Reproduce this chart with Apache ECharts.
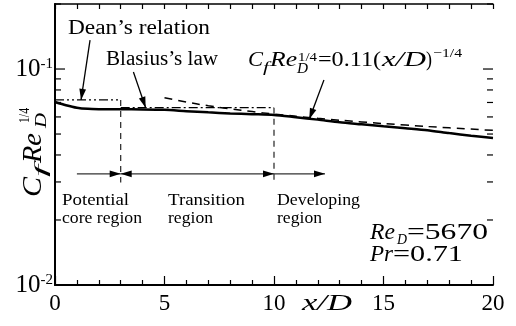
<!DOCTYPE html>
<html>
<head>
<meta charset="utf-8">
<script src="https://cdn.jsdelivr.net/npm/echarts@6/dist/echarts.min.js"></script>
<style>
html,body{margin:0;padding:0;background:#fff;}
#chart{width:516px;height:326px;}
</style>
</head>
<body>
<div id="chart"></div>
<script>
// ---------------- data ----------------
const xPositions = [0, 0.5, 1, 1.5, 2, 3, 4, 5, 6, 7, 8, 9, 10, 11, 12, 13, 14, 15, 16, 17, 18, 19, 20];
const cfReMeasured = [0.0704, 0.0680, 0.0662, 0.0654, 0.0652, 0.0651, 0.0650, 0.0647, 0.0638, 0.0630, 0.0623, 0.0618, 0.0613, 0.0598, 0.0583, 0.0567, 0.0555, 0.0543, 0.0532, 0.0521, 0.0505, 0.0491, 0.0479];
const powerLawX = [5, 6, 7, 8, 9, 10, 12, 14, 16, 18, 20];
const powerLawY = [0.0736, 0.0703, 0.0676, 0.0654, 0.0635, 0.0619, 0.0591, 0.0569, 0.0550, 0.0534, 0.0520];
const deanRange = [0, 3];
const deanLevel = 0.0719;
const blasiusRange = [3, 10];
const blasiusLevel = 0.0662;
const regionBounds = [3, 10];
const boundaryBottom = 0.0298;
const regionArrowStart = 1.0;
const regionArrowEnd = 12.33;
const regionArrowLevel = 0.0327;
const deanPointer = [1.60, 0.136, 1.19, deanLevel];
const blasiusPointer = [3.58, 0.0969, 4.14, blasiusLevel];
const powerPointer = [12.28, 0.0890, 11.61, 0.0586];
const xRange = [0, 20];
const xTickStep = 5;
const yRange = [0.01, 0.2];
const yMajorTicks = [0.01, 0.1];
const yMinorTicks = [0.02, 0.03, 0.04, 0.05, 0.06, 0.07, 0.08, 0.09, 0.2];

// ---------------- helpers ----------------
const FAMILY = '"Liberation Serif", "Times New Roman", serif';
const measureCtx = document.createElement('canvas').getContext('2d');
function fontStr(size, italic) { return (italic ? 'italic ' : '') + size + 'px ' + FAMILY; }
function piece(str, x0, x1, baseline, size, italic) {
  const f = fontStr(size, italic);
  measureCtx.font = f;
  const w = measureCtx.measureText(str).width || 1;
  return {
    type: 'text', x: x0, y: baseline - 0.34 * size, scaleX: (x1 - x0) / w, z: 100,
    style: { text: str, font: f, fill: '#000', align: 'left', verticalAlign: 'middle' }
  };
}
const P = (a) => piece.apply(null, a);

const textPieces = [
  ['Dean\u2019s relation', 68, 210, 36, 20, false],
  ['Blasius\u2019s law', 106, 218, 66.7, 20, false],
  ['C', 248, 263, 68, 22, true], ['f', 263, 269, 73, 14, true], ['Re', 270, 297, 68, 22, true],
  ['D', 297, 308, 74.5, 14, true], ['1/4', 298, 317, 62, 13, false],
  ['=0.11(', 318, 381, 68, 22, false], ['x/D', 382, 426, 68, 22, true], [')', 426, 432, 68, 22, false],
  ['\u22121/4', 433, 462, 58, 13, false],
  ['Potential', 62, 129, 206.7, 17, false], ['core region', 62, 142, 224, 17, false],
  ['Transition', 168, 245, 206.7, 17, false], ['region', 168, 213, 224, 17, false],
  ['Developing', 277, 360, 206.7, 16, false], ['region', 277, 322, 224, 16, false],
  ['Re', 370, 395, 241, 23, true], ['D', 397, 407, 245.5, 15, true], ['=5670', 407, 488, 241, 23, false],
  ['Pr', 370, 393, 263, 23, true], ['=0.71', 393, 463, 263, 23, false],
  ['x/D', 302, 352, 312, 23, true]
];
const yTitlePieces = [
  ['C', -45, -25, 11, 28, true], ['f', -25, -13, 15, 17, true], ['Re', -11, 19, 11, 28, true],
  ['D', 24, 39, 15.5, 17, true], ['1/4', 29, 44, -2, 15, false]
];

function arrowRender(params, api) {
  const a = api.coord([api.value(0), api.value(1)]);
  const b = api.coord([api.value(2), api.value(3)]);
  const hs = api.value(4), he = api.value(5), kind = api.value(6);
  const dx = b[0] - a[0], dy = b[1] - a[1];
  const L = Math.hypot(dx, dy) || 1;
  const ux = dx / L, uy = dy / L;
  const HL = 11, HW = 3.4;
  const children = [{
    type: 'line', shape: { x1: a[0], y1: a[1], x2: b[0], y2: b[1] },
    style: { stroke: kind ? '#333' : '#000', lineWidth: kind ? 1.2 : 1.3 }
  }];
  function head(tip, dirx, diry) {
    const bx = tip[0] - dirx * HL, by = tip[1] - diry * HL;
    return { type: 'polygon', shape: { points: [[tip[0], tip[1]], [bx - diry * HW, by + dirx * HW], [bx + diry * HW, by - dirx * HW]] }, style: { fill: '#000' } };
  }
  if (he) children.push(head(b, ux, uy));
  if (hs) children.push(head(a, -ux, -uy));
  return { type: 'group', children: children };
}
function tickRender(params, api) {
  const v = api.value(1), len = api.value(2);
  const pl = api.coord([xRange[0], v]);
  const pr = api.coord([xRange[1], v]);
  const st = { stroke: '#000', lineWidth: 1.2 };
  return { type: 'group', children: [
    { type: 'line', shape: { x1: pl[0], y1: pl[1], x2: pl[0] + len, y2: pl[1] }, style: st },
    { type: 'line', shape: { x1: pr[0], y1: pr[1], x2: pr[0] - len, y2: pr[1] }, style: st }
  ] };
}

const arrowData = [
  deanPointer.concat([0, 1, 0]),
  blasiusPointer.concat([0, 1, 0]),
  powerPointer.concat([0, 1, 0]),
  [regionArrowStart, regionArrowLevel, regionBounds[0], regionArrowLevel, 0, 1, 1],
  [regionBounds[0], regionArrowLevel, regionBounds[1], regionArrowLevel, 1, 1, 1],
  [regionBounds[1], regionArrowLevel, regionArrowEnd, regionArrowLevel, 0, 1, 1]
];
const tickData = yMajorTicks.map(v => [0, v, 10]).concat(yMinorTicks.map(v => [0, v, 6]));

const chart = echarts.init(document.getElementById('chart'), null, { renderer: 'canvas' });
const option = {
  animation: false,
  backgroundColor: '#fff',
  grid: { left: 55, right: 23, top: 4, bottom: 41 },
  xAxis: [
    {
      type: 'value', min: xRange[0], max: xRange[1], interval: xTickStep, position: 'bottom',
      axisLine: { lineStyle: { color: '#000', width: 2 } },
      axisTick: { inside: true, length: 9, lineStyle: { color: '#000', width: 1.2 } },
      minorTick: { show: true, splitNumber: 5, length: 5, lineStyle: { color: '#000', width: 1.2 } },
      axisLabel: { fontFamily: FAMILY, fontSize: 23, color: '#000', margin: 7 },
      splitLine: { show: false }
    },
    {
      type: 'value', min: xRange[0], max: xRange[1], interval: xTickStep, position: 'top',
      axisLine: { lineStyle: { color: '#000', width: 1.5 } },
      axisTick: { inside: true, length: 5, lineStyle: { color: '#000', width: 1.2 } },
      minorTick: { show: true, splitNumber: 5, length: 5, lineStyle: { color: '#000', width: 1.2 } },
      axisLabel: { show: false },
      splitLine: { show: false }
    }
  ],
  yAxis: [
    {
      type: 'log', logBase: 10, min: yRange[0], max: yRange[1], position: 'left',
      axisLine: { show: true, lineStyle: { color: '#000', width: 1.5 } },
      axisTick: { show: false }, minorTick: { show: false },
      splitLine: { show: false }, minorSplitLine: { show: false },
      axisLabel: {
        margin: 2,
        formatter: function (v) {
          const l = Math.log10(v), e = Math.round(l);
          if (Math.abs(l - e) > 1e-6) return '';
          return '{b|10}{s|' + e + '}';
        },
        rich: {
          b: { fontFamily: FAMILY, fontSize: 25, lineHeight: 25, color: '#000' },
          s: { fontFamily: FAMILY, fontSize: 15, lineHeight: 8, color: '#000', verticalAlign: 'top' }
        }
      }
    },
    {
      type: 'log', logBase: 10, min: yRange[0], max: yRange[1], position: 'right',
      axisLine: { show: true, lineStyle: { color: '#000', width: 2 } },
      axisTick: { show: false }, axisLabel: { show: false }, splitLine: { show: false }
    }
  ],
  series: [
    {
      name: 'measured', type: 'line', smooth: 0.25, showSymbol: false, z: 5,
      data: xPositions.map((x, i) => [x, cfReMeasured[i]]),
      lineStyle: { color: '#000', width: 2.5 }
    },
    {
      name: 'Dean', type: 'line', showSymbol: false,
      data: [[deanRange[0], deanLevel], [deanRange[1], deanLevel]],
      lineStyle: { color: '#000', width: 1.3, type: [9, 3, 2, 3, 2, 3] }
    },
    {
      name: 'Blasius', type: 'line', showSymbol: false,
      data: [[blasiusRange[0], blasiusLevel], [blasiusRange[1], blasiusLevel]],
      lineStyle: { color: '#000', width: 1.3, type: [9, 3, 2, 3] }
    },
    {
      name: 'powerLaw', type: 'line', showSymbol: false, smooth: true,
      data: powerLawX.map((x, i) => [x, powerLawY[i]]),
      lineStyle: { color: '#000', width: 1.5, type: [8, 6] }
    },
    {
      name: 'bound1', type: 'line', showSymbol: false,
      data: [[regionBounds[0], deanLevel], [regionBounds[0], boundaryBottom]],
      lineStyle: { color: '#222', width: 1.2, type: [6, 5] }
    },
    {
      name: 'bound2', type: 'line', showSymbol: false,
      data: [[regionBounds[1], blasiusLevel], [regionBounds[1], boundaryBottom]],
      lineStyle: { color: '#222', width: 1.2, type: [6, 5] }
    },
    {
      name: 'arrows', type: 'custom', renderItem: arrowRender, data: arrowData,
      encode: { x: [0, 2], y: [1, 3] }, z: 10, silent: true
    },
    {
      name: 'yTicks', type: 'custom', renderItem: tickRender, data: tickData,
      encode: { x: 0, y: 1 }, z: 10, silent: true
    }
  ],
  graphic: textPieces.map(P).concat([{
    type: 'group', x: 32, y: 152, rotation: Math.PI / 2,
    children: yTitlePieces.map(P)
  }])
};
chart.setOption(option);
</script>
</body>
</html>
